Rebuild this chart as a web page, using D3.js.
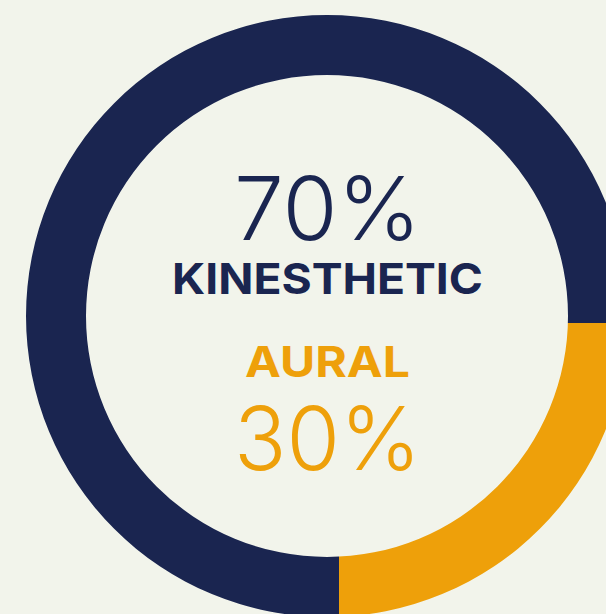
<!DOCTYPE html>
<html>
<head>
<meta charset="utf-8">
<script src="https://cdn.jsdelivr.net/npm/d3@7"></script>
<style>
  html, body { margin: 0; padding: 0; background: #f2f4eb; }
  svg { display: block; }
</style>
</head>
<body>
<svg id="chart" width="606" height="614"></svg>
<script>
// Categories and values
const categories = ["Aural", "Kinesthetic"];
const percentLabels = ["30%", "70%"];
// Ring segment shares as they appear in the picture
const arcShares = [25, 75];
const colors = ["#eea00a", "#1a2550"];

const W = 606, H = 614;
const ringCx = 327, ringCy = 316;
const outerR = 301, innerR = 241;
const pieCx = 339, pieCy = 323;

const svg = d3.select("#chart");
svg.append("rect").attr("width", W).attr("height", H).attr("fill", "#f2f4eb");

// ring shape used as a clip
const ringArc = d3.arc().innerRadius(innerR).outerRadius(outerR)
  .startAngle(0).endAngle(2 * Math.PI);
svg.append("defs").append("clipPath").attr("id", "ring")
  .append("path")
  .attr("transform", `translate(${ringCx},${ringCy})`)
  .attr("d", ringArc());

const pie = d3.pie()
  .sort(null)
  .value(d => d)
  .startAngle(Math.PI / 2)
  .endAngle(Math.PI / 2 + 2 * Math.PI);

const arc = d3.arc().innerRadius(0).outerRadius(420);

const g = svg.append("g").attr("clip-path", "url(#ring)")
  .append("g").attr("transform", `translate(${pieCx},${pieCy})`);
g.selectAll("path")
  .data(pie(arcShares))
  .join("path")
  .attr("d", arc)
  .attr("fill", (d, i) => colors[i]);

// center texts
const font = "Inter, 'Open Sans', sans-serif";
const texts = [
  { t: percentLabels[1], y: 240, size: 88, weight: 300, color: colors[1], len: 187 },
  { t: categories[1].toUpperCase(), y: 294, size: 43, weight: 700, color: colors[1], len: 311 },
  { t: categories[0].toUpperCase(), y: 377, size: 43, weight: 700, color: colors[0], len: 165 },
  { t: percentLabels[0], y: 470, size: 88, weight: 300, color: colors[0], len: 187 }
];
svg.selectAll("text.lbl")
  .data(texts)
  .join("text")
  .attr("class", "lbl")
  .attr("x", ringCx + 0.5)
  .attr("y", d => d.y)
  .attr("text-anchor", "middle")
  .attr("font-family", font)
  .attr("font-size", d => d.size)
  .attr("font-weight", d => d.weight)
  .attr("fill", d => d.color)
  .attr("textLength", d => d.len)
  .attr("lengthAdjust", "spacingAndGlyphs")
  .text(d => d.t);
</script>
</body>
</html>
